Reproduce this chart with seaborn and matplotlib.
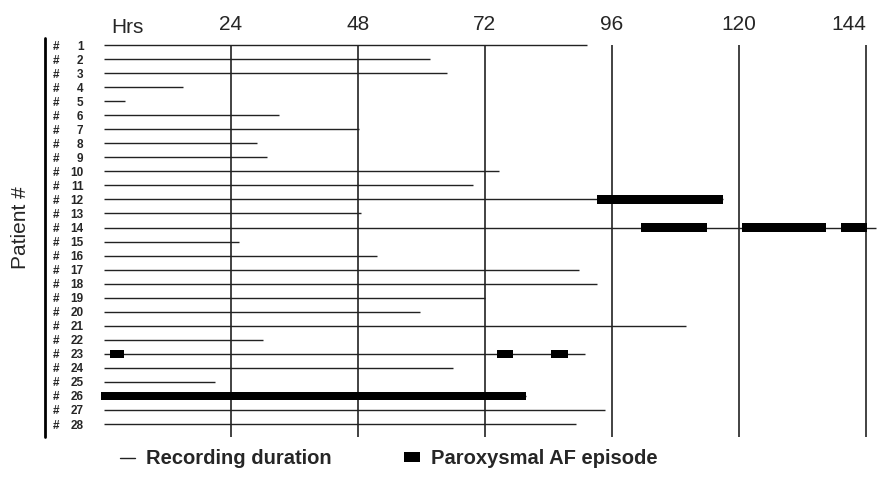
import numpy as np
import pandas as pd
import matplotlib
matplotlib.use("Agg")
import matplotlib.pyplot as plt
import seaborn as sns
from matplotlib.lines import Line2D
from matplotlib.patches import Patch

# recording duration per patient (hours)
patients = list(range(1, 29))
duration = [91.3, 61.6, 64.8, 14.9, 4.0, 33.1, 48.2, 28.9, 30.8, 74.7,
            69.8, 117.0, 48.6, 146.0, 25.5, 51.6, 89.8, 93.2, 72.0, 59.7,
            110.0, 30.1, 90.9, 66.0, 21.0, 79.8, 94.7, 89.2]

# paroxysmal AF episodes (patient, start hr, end hr)
ep_patient = [12, 14, 14, 14, 23, 23, 23, 26]
ep_start = [93.2, 101.5, 120.6, 139.3, 1.1, 74.3, 84.5, -0.5]
ep_end = [117.0, 114.0, 136.5, 144.2, 3.8, 77.3, 87.7, 79.8]

hour_ticks = [24, 48, 72, 96, 120, 144]

sns.set_style("white")
plt.rcParams['font.family'] = ['Liberation Sans', 'DejaVu Sans']

rec = pd.DataFrame({"patient": patients, "duration": duration})
eps = pd.DataFrame({"patient": ep_patient, "start": ep_start, "end": ep_end})

fig = plt.figure(figsize=(8.78, 4.84), dpi=100)
ax = fig.add_axes([98.7 / 878, 1 - 442 / 484, (878 - 98.7) / 878, 404 / 484])

# grid lines
ax.vlines(hour_ticks, 1, 28.92, color="#222222", lw=1.2, zorder=1)

# recording lines
ax.hlines(rec["patient"], 0, rec["duration"], color="#222222", lw=1.0, zorder=2)

# AF episodes
for _, r in eps.iterrows():
    ax.broken_barh([(r["start"], r["end"] - r["start"])], (r["patient"] - 0.3, 0.6),
                   facecolor="black", edgecolor="none", zorder=3)

ax.set_xlim(-1, 146.3)
ax.set_ylim(29.28, 0.5)
for s in ax.spines.values():
    s.set_visible(False)

ax.xaxis.tick_top()
ax.set_xticks(hour_ticks)
labels = ax.set_xticklabels([str(h) for h in hour_ticks], fontsize=15)
# last label sits a bit left so it stays inside the figure
labels[-1].set_ha("right")
labels[-1].set_x(146.0)
ax.tick_params(axis="x", length=0, pad=3)
ax.text(4.4, 0.45, "Hrs", fontsize=15, ha="center", va="bottom",
        transform=ax.transData)

ax.set_yticks(patients)
ax.set_yticklabels([str(p) for p in patients], fontsize=8.5, fontweight="bold")
ax.tick_params(axis="y", length=0, pad=11)
ytr = ax.get_yaxis_transform()
for p in patients:
    ax.text(-0.055, p, "#", fontsize=8.5, fontweight="bold", ha="center",
            va="center_baseline", transform=ytr)

# bracket on the left
ax.plot([-0.069, -0.069], [0.5, 28.92], color="black", lw=2, transform=ytr,
        clip_on=False)

fig.text(20 / 878, 1 - 228 / 484, "Patient #", rotation=90, fontsize=15,
         ha="center", va="center")

handles = [Line2D([0], [0], color="#222222", lw=1.0),
           Patch(facecolor="black", edgecolor="none")]
fig.legend(handles, ["Recording duration", "Paroxysmal AF episode"],
           loc="lower left", bbox_to_anchor=(102 / 878, -0.005), ncol=2,
           frameon=False, handlelength=0.75, handleheight=0.35,
           handletextpad=0.55, columnspacing=3.6,
           prop={"size": 14.5, "weight": "bold"})

fig.savefig("out.png", dpi=100, facecolor="white")
